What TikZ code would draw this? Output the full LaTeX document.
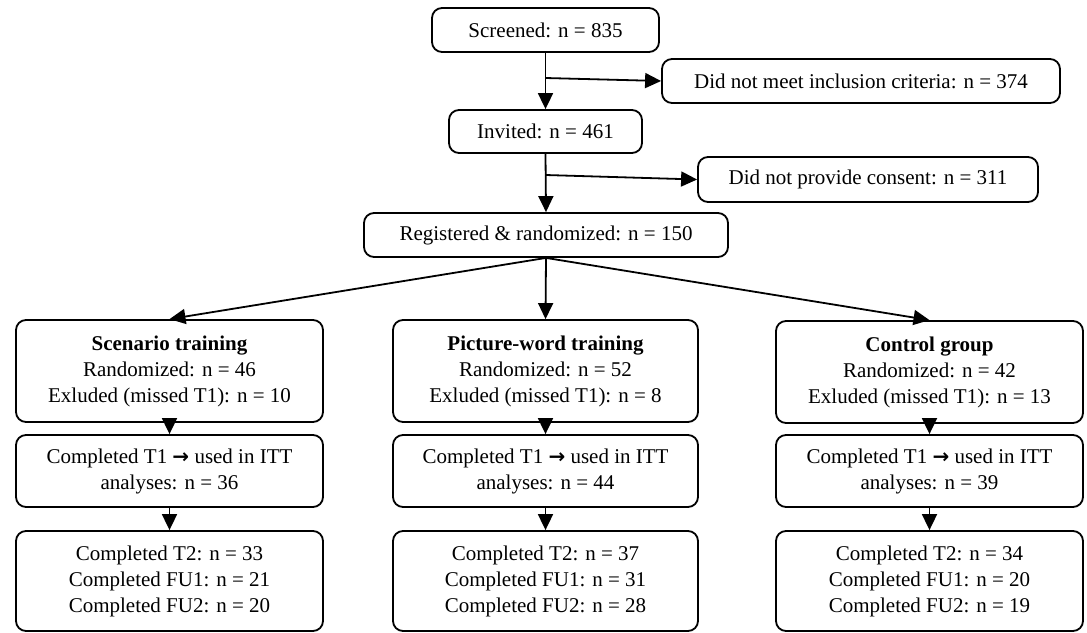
\documentclass[tikz,border=0pt]{standalone}
\usepackage{fontspec}
\setmainfont{Liberation Serif}
\newfontfamily\arrowfont{DejaVu Sans}
\usetikzlibrary{arrows.meta}
\begin{document}
\begin{tikzpicture}[x=1pt,y=-1pt,
  box/.style={draw,line width=1.8pt,rounded corners=10pt,inner sep=0pt,align=center,
    font=\fontsize{21}{26}\selectfont},
  conn/.style={line width=1.8pt,-{Triangle[length=16pt,width=15pt]}}]
\useasboundingbox (0,0) rectangle (1087,632);
\newcommand{\ar}{{\arrowfont\bfseries\fontsize{20}{26}\selectfont →}}
\node[box,minimum width=227pt,minimum height=44pt] (scr) at (545.5,30) {Screened: n = 835};
\node[box,minimum width=398pt,minimum height=44pt] (dnm) at (861,81) {Did not meet inclusion criteria: n = 374};
\node[box,minimum width=193pt,minimum height=43pt] (inv) at (545.5,131.5) {Invited: n = 461};
\node[box,minimum width=340pt,minimum height=45pt] (dnp) at (868,179.5) {Did not provide consent: n = 311};
\node[box,minimum width=364pt,minimum height=44pt] (reg) at (546,235) {Registered \& randomized: n = 150};

\node[box,minimum width=307pt,minimum height=102pt] (g1) at (169.5,371) {\textbf{Scenario training}\\Randomized: n = 46\\Exluded (missed T1): n = 10};
\node[box,minimum width=305pt,minimum height=102pt] (g2) at (545.5,371) {\textbf{Picture-word training}\\Randomized: n = 52\\Exluded (missed T1): n = 8};
\node[box,minimum width=307pt,minimum height=102pt] (g3) at (929.5,372) {\textbf{Control group}\\Randomized: n = 42\\Exluded (missed T1): n = 13};

\node[box,minimum width=307pt,minimum height=72pt] (a1) at (169.5,471) {Completed T1 \ar{} used in ITT\\analyses: n = 36};
\node[box,minimum width=305pt,minimum height=72pt] (a2) at (545.5,471) {Completed T1 \ar{} used in ITT\\analyses: n = 44};
\node[box,minimum width=307pt,minimum height=72pt] (a3) at (929.5,471) {Completed T1 \ar{} used in ITT\\analyses: n = 39};

\node[box,minimum width=307pt,minimum height=100pt] (c1) at (169.5,581) {Completed T2: n = 33\\Completed FU1: n = 21\\Completed FU2: n = 20};
\node[box,minimum width=305pt,minimum height=100pt] (c2) at (545.5,581) {Completed T2: n = 37\\Completed FU1: n = 31\\Completed FU2: n = 28};
\node[box,minimum width=307pt,minimum height=100pt] (c3) at (929.5,581) {Completed T2: n = 34\\Completed FU1: n = 20\\Completed FU2: n = 19};

\coordinate (b1) at (scr.south |- 0,78);
\coordinate (b2) at (inv.south |- 0,175);
\draw[conn] (scr.south) -- (inv.north);
\draw[conn] (b1) -- (dnm.west);
\draw[conn] (inv.south) -- (reg.north);
\draw[conn] (b2) -- (dnp.west);
\draw[conn] (reg.south) -- (g1.north);
\draw[conn] (reg.south) -- (g2.north);
\draw[conn] (reg.south) -- (g3.north);
\draw[conn] (g1.south) -- (a1.north);
\draw[conn] (g2.south) -- (a2.north);
\draw[conn] (g3.south) -- (a3.north);
\draw[conn] (a1.south) -- (c1.north);
\draw[conn] (a2.south) -- (c2.north);
\draw[conn] (a3.south) -- (c3.north);
\end{tikzpicture}
\end{document}
